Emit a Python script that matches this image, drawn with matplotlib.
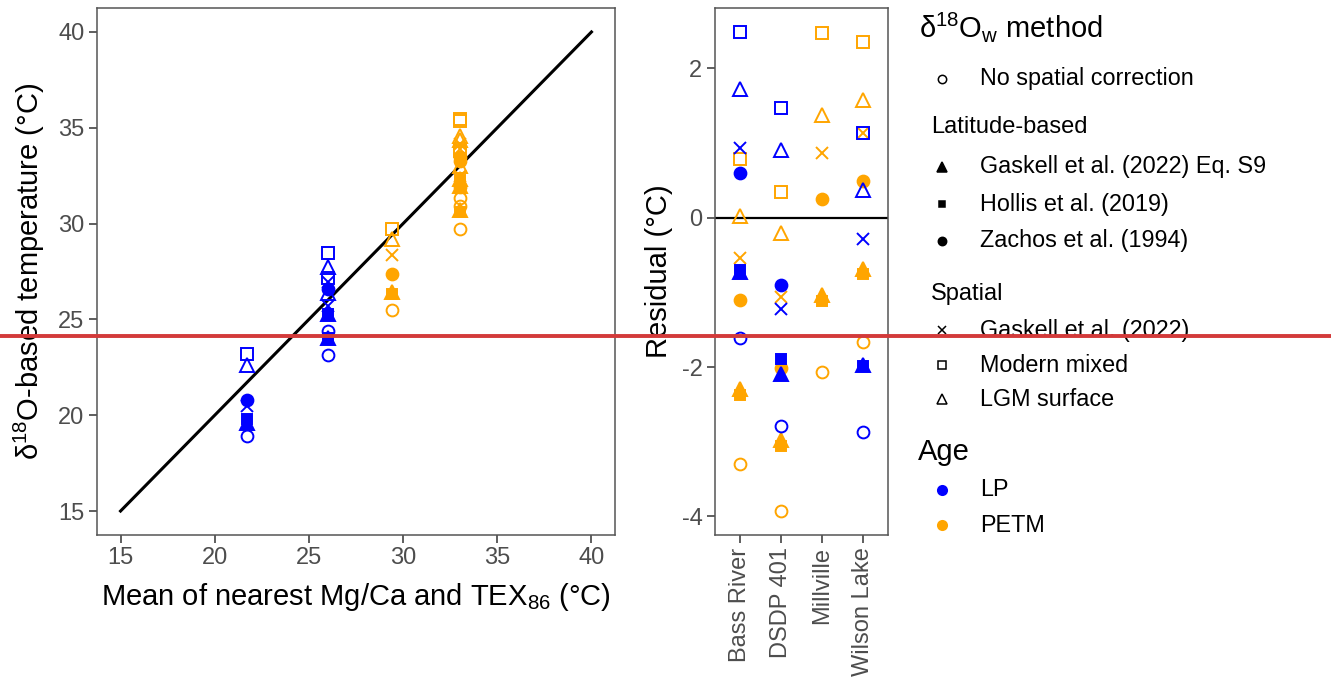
import numpy as np
import matplotlib
matplotlib.use('Agg')
import matplotlib.pyplot as plt

plt.rcParams['font.family'] = ['Liberation Sans', 'DejaVu Sans']
plt.rcParams['mathtext.fontset'] = 'custom'
plt.rcParams['mathtext.rm'] = 'Liberation Sans'
plt.rcParams['mathtext.it'] = 'Liberation Sans:italic'
plt.rcParams['axes.unicode_minus'] = False

# data
sites = ['Bass River', 'DSDP 401', 'Millville', 'Wilson Lake']
methods = ['No spatial correction', 'Gaskell et al. (2022) Eq. S9', 'Hollis et al. (2019)',
           'Zachos et al. (1994)', 'Gaskell et al. (2022)', 'Modern mixed', 'LGM surface']

# mean of nearest Mg/Ca and TEX86 per site (nan = no data)
mean_lp = [26.0, 21.7, np.nan, 26.0]
mean_petm = [33.0, 29.4, 33.0, 33.0]

# residuals (d18O temperature minus proxy mean), one list per site, in method order
resid_lp = {
    'Bass River':  [-1.61, -0.72, -0.70, 0.60, 0.93, 2.49, 1.72],
    'DSDP 401':    [-2.79, -2.09, -1.89, -0.90, -1.22, 1.47, 0.91],
    'Millville':   [np.nan] * 7,
    'Wilson Lake': [-2.87, -1.97, -1.99, np.nan, -0.29, 1.14, 0.37],
}
resid_petm = {
    'Bass River':  [-3.30, -2.30, -2.38, -1.10, -0.54, 0.79, 0.02],
    'DSDP 401':    [-3.93, -2.98, -3.06, -2.01, -1.06, 0.34, -0.20],
    'Millville':   [-2.06, -1.03, -1.12, 0.25, 0.87, 2.48, 1.38],
    'Wilson Lake': [-1.67, -0.68, -0.75, 0.49, 1.14, 2.35, 1.58],
}

ages = ['LP', 'PETM']
age_colors = {'PETM': '#FFA500', 'LP': '#0000FF'}

# marker style per method: (marker, filled)
styles = [('o', False), ('^', True), ('s', True), ('o', True), ('x', False), ('s', False), ('^', False)]


def marker_kw(mk, filled, col, base):
    kw = dict(marker=mk, markersize=base, linestyle='none', markeredgewidth=1.4, color=col)
    if mk == '^':
        kw['markersize'] = base + 1.8
    if mk == 's' and filled:
        kw['markersize'] = base - 1
    if not filled and mk != 'x':
        kw['markerfacecolor'] = 'none'
    return kw


fig = plt.figure(figsize=(13.31, 6.83), dpi=100)
ax1 = fig.add_axes([97/1331, 148/683, 518/1331, 527/683])
ax2 = fig.add_axes([715/1331, 148/683, 173/1331, 527/683])

for age, means, resid in [('PETM', mean_petm, resid_petm), ('LP', mean_lp, resid_lp)]:
    col = age_colors[age]
    for i, site in enumerate(sites):
        r = np.array(resid[site])
        for j, (mk, filled) in enumerate(styles):
            if np.isnan(r[j]):
                continue
            kw = marker_kw(mk, filled, col, 8.5)
            ax2.plot(i, r[j], **kw)
            ax1.plot(means[i], means[i] + r[j], **kw)

ax1.plot([15, 40], [15, 40], color='black', lw=2.2, zorder=1)
ax1.set_xlim(13.75, 41.25)
ax1.set_ylim(13.75, 41.25)
ax1.set_xticks([15, 20, 25, 30, 35, 40])
ax1.set_yticks([15, 20, 25, 30, 35, 40])
ax1.set_xlabel('Mean of nearest Mg/Ca and TEX$_{86}$ (°C)', fontsize=21, labelpad=8)
ax1.set_ylabel('δ$^{18}$O-based temperature (°C)', fontsize=21, labelpad=8)

ax2.axhline(0, color='black', lw=1.6, zorder=1)
ax2.set_xlim(-0.6, 3.6)
ax2.set_ylim(-4.25, 2.81)
ax2.set_xticks(range(len(sites)))
ax2.set_xticklabels(sites, rotation=90)
ax2.set_yticks([-4, -2, 0, 2])
ax2.set_ylabel('Residual (°C)', fontsize=21, labelpad=6)

for ax in (ax1, ax2):
    for s in ax.spines.values():
        s.set_color('#555555')
        s.set_linewidth(1.1)
    ax.tick_params(length=6, width=1.1, color='#333333', labelcolor='#4D4D4D', labelsize=17, pad=3)

# legend drawn on an overlay in pixel coordinates
leg = fig.add_axes([0, 0, 1, 1], zorder=-1)
leg.set_xlim(0, 1331)
leg.set_ylim(683, 0)
leg.axis('off')

leg.text(919, 27, 'δ$^{18}$O$_{\\mathrm{w}}$ method', fontsize=21, va='center')
rows = [(79, 0), (167, 1), (204, 2), (241, 3), (330, 4), (365, 5), (399, 6)]
for y, j in rows:
    mk, filled = styles[j]
    kw = marker_kw(mk, filled, 'black', 6)
    kw['markeredgewidth'] = 1.1
    leg.plot(942, y, **kw)
    leg.text(980, y, methods[j], fontsize=16.8, va='center')
leg.text(931, 127, 'Latitude-based', fontsize=17, va='center')
leg.text(931, 294, 'Spatial', fontsize=17, va='center')

leg.text(918, 452, 'Age', fontsize=21, va='center')
for y, age in [(490, 'LP'), (525, 'PETM')]:
    leg.plot(942, y, marker='o', markersize=8, color=age_colors[age], markeredgewidth=0)
    leg.text(980, y, age, fontsize=16.8, va='center')

# red horizontal line across the whole figure
fig.add_artist(plt.Line2D([0, 1], [1 - 336/683, 1 - 336/683], color='#d33a3a', lw=2.8,
                          transform=fig.transFigure))

fig.savefig('out.png', dpi=100)
